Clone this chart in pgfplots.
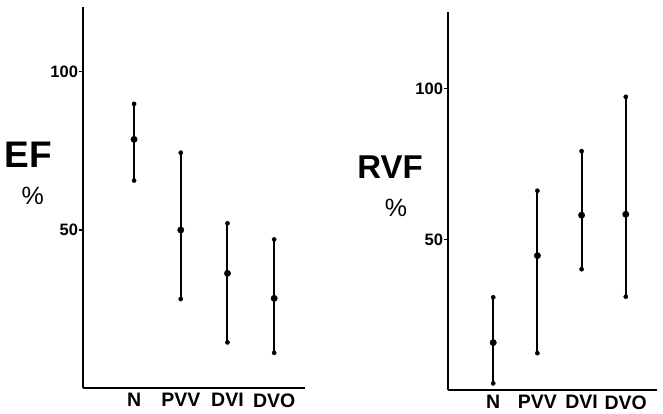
\documentclass[border=0pt]{standalone}
\usepackage{pgfplots}
\pgfplotsset{compat=1.18}
\usepackage{pgfplotstable}
\usepackage{fontspec}
\setmainfont{Liberation Sans}

\pgfplotstableread{
x y ep em
0 78.6 11.2 13.0
1 50.0 24.4 21.8
2 36.3 15.8 21.8
3 28.4 18.6 17.2
}\efdata
\pgfplotstableread{
x y ep em
0 15.8 15.0 13.5
1 44.6 21.5 32.3
2 58.0 21.2 17.9
3 58.3 38.9 27.3
}\rvfdata

\pgfplotsset{
  mystyle/.style={
    scale only axis,
    anchor=south west,
    axis x line*=bottom,
    axis y line*=left,
    axis line style={line width=1.8pt, -},
    ymin=0,
    xtick={0,1,2,3},
    xticklabels={N,PVV,DVI,DVO},
    x tick style={draw=none},
    xticklabel style={font=\bfseries\fontsize{19.5}{19.5}\selectfont, inner sep=1pt, anchor=north},
    ytick={50,100},
    y tick style={line width=1.4pt, black},
    tick align=outside,
    major tick length=4pt,
    yticklabel style={font=\bfseries\fontsize{16.5}{16.5}\selectfont, inner sep=0.5pt},
    /pgf/number format/assume math mode=true,
  },
  mybars/.style={
    draw=black, fill=black, only marks, mark=*, mark size=3.2pt,
    mark options={draw=black, fill=black},
    error bars/.cd, y dir=both, y explicit,
    error mark=*, error mark options={mark size=2.1pt, draw=black, fill=black},
    error bar style={line width=2pt, draw=black},
  }
}

\begin{document}
\begin{tikzpicture}[x=1pt,y=1pt]
\useasboundingbox (0,0) rectangle (663,414);
\begin{axis}[mystyle,
  at={(82.7pt,25.7pt)},
  width=222.3pt, height=381.6pt,
  xmin=-1.1, xmax=3.66, ymax=120.5]
\addplot[mybars] table[x=x, y=y, y error plus=ep, y error minus=em] {\efdata};
\end{axis}
\begin{axis}[mystyle,
  at={(447.7pt,23.7pt)},
  width=209pt, height=378.6pt,
  xmin=-1.03, xmax=3.70, ymax=125.4]
\addplot[mybars] table[x=x, y=y, y error plus=ep, y error minus=em] {\rvfdata};
\end{axis}
\node[font=\bfseries\fontsize{37}{37}\selectfont, inner sep=0] at (28.5,259) {EF};
\node[font=\fontsize{25}{25}\selectfont, inner sep=0] at (32.7,218) {\%};
\node[font=\bfseries\fontsize{33}{33}\selectfont, inner sep=0] at (390,246.5) {RVF};
\node[font=\fontsize{25}{25}\selectfont, inner sep=0] at (396,206) {\%};
\end{tikzpicture}
\end{document}
